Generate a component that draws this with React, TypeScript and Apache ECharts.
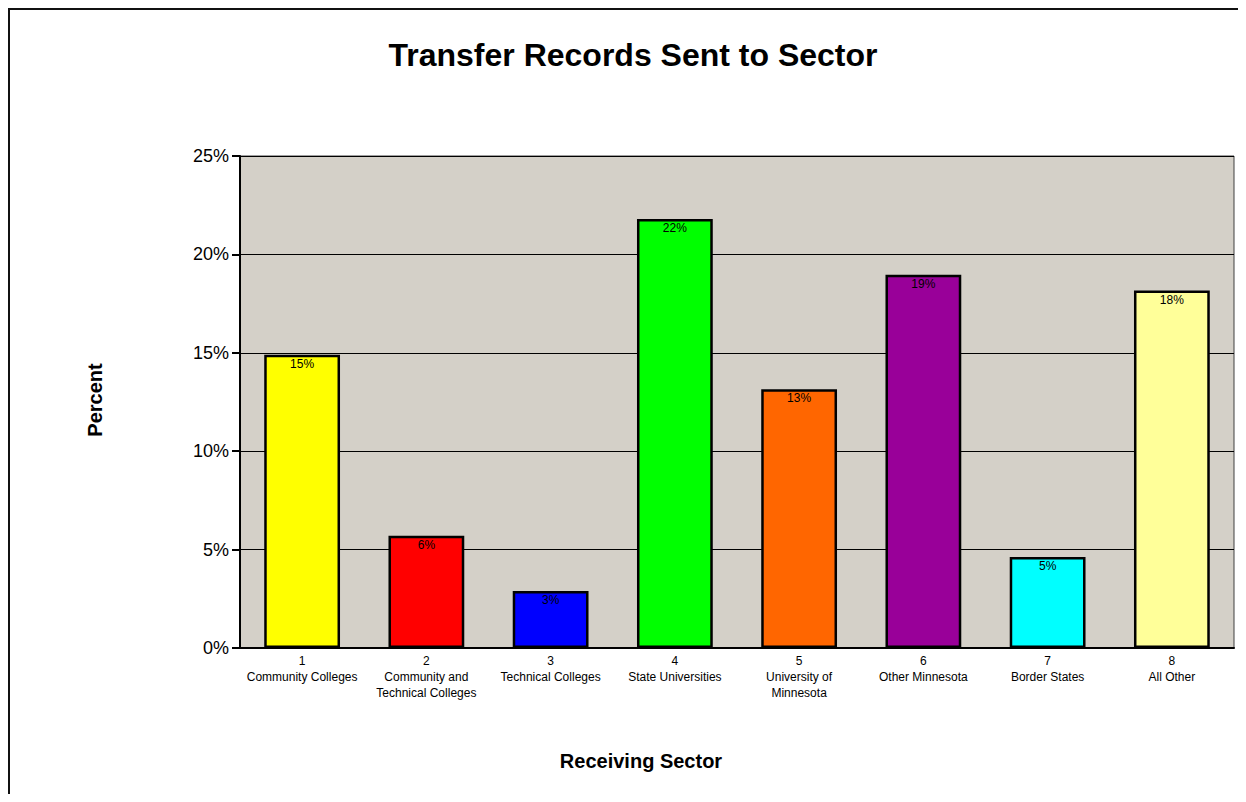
import React, { useEffect, useRef } from "react";
import * as echarts from "echarts";

const categories = [
  "1\nCommunity Colleges",
  "2\nCommunity and\nTechnical Colleges",
  "3\nTechnical Colleges",
  "4\nState Universities",
  "5\nUniversity of\nMinnesota",
  "6\nOther Minnesota",
  "7\nBorder States",
  "8\nAll Other",
];
const values = [14.9, 5.7, 2.9, 21.8, 13.15, 18.97, 4.63, 18.16];
const colors = ["#FFFF00", "#FF0000", "#0000FF", "#00FF00", "#FF6600", "#990099", "#00FFFF", "#FFFF99"];
const yTicks = { min: 0, max: 25, interval: 5 };

const FONT = "'Liberation Sans', Arial, sans-serif";

export default function App() {
  const ref = useRef<HTMLDivElement>(null);
  useEffect(() => {
    if (!ref.current) return;
    const chart = echarts.init(ref.current, undefined, { renderer: "svg" });
    chart.setOption({
      animation: false,
      backgroundColor: "#ffffff",
      textStyle: { fontFamily: FONT },
      title: {
        text: "Transfer Records Sent to Sector",
        left: 618,
        textAlign: "center",
        top: 24,
        textStyle: { fontSize: 32, fontWeight: "bold", color: "#000", fontFamily: FONT },
      },
      grid: {
        left: 230,
        top: 146,
        right: 4,
        bottom: 146,
        show: true,
        backgroundColor: "#D4D0C8",
        borderColor: "#404040",
        borderWidth: 1,
        containLabel: false,
      },
      xAxis: {
        type: "category",
        data: categories,
        axisLine: { show: true, lineStyle: { color: "#000", width: 2 } },
        axisTick: { show: false },
        axisLabel: {
          color: "#000",
          fontSize: 12,
          lineHeight: 16,
          margin: 5,
          interval: 0,
          fontFamily: FONT,
        },
      },
      yAxis: {
        type: "value",
        min: yTicks.min,
        max: yTicks.max,
        interval: yTicks.interval,
        axisLine: { show: true, lineStyle: { color: "#000", width: 2 } },
        axisTick: { show: true, length: 8, lineStyle: { color: "#000", width: 2 } },
        axisLabel: {
          color: "#000",
          fontSize: 18,
          margin: 11,
          formatter: (v: number) => v + "%",
          fontFamily: FONT,
        },
        splitLine: { show: true, lineStyle: { color: "#000", width: 1 } },
      },
      series: [
        {
          type: "bar",
          data: values.map((v, i) => ({ value: v, itemStyle: { color: colors[i] } })),
          barCategoryGap: "39%",
          itemStyle: { borderColor: "#000", borderWidth: 2.5 },
          label: {
            show: true,
            position: "insideTop",
            distance: 3,
            color: "#000",
            fontSize: 12,
            fontFamily: FONT,
            formatter: (p: any) => Math.round(p.value) + "%",
          },
        },
      ],
      graphic: [
        {
          type: "text",
          x: 85,
          y: 390,
          rotation: Math.PI / 2,
          style: {
            text: "Percent",
            fontSize: 20,
            fontWeight: "bold",
            fontFamily: FONT,
            fill: "#000",
            align: "center",
            verticalAlign: "middle",
          },
        },
        {
          type: "text",
          x: 631,
          y: 751,
          style: {
            text: "Receiving Sector",
            fontSize: 20,
            fontWeight: "bold",
            fontFamily: FONT,
            fill: "#000",
            align: "center",
            verticalAlign: "middle",
          },
        },
      ],
    });
    return () => chart.dispose();
  }, []);
  return (
    <div style={{ borderLeft: "2px solid #111", borderTop: "2px solid #111", width: 1228, height: 784 }}>
      <div ref={ref} style={{ width: 1228, height: 784 }} />
    </div>
  );
}
